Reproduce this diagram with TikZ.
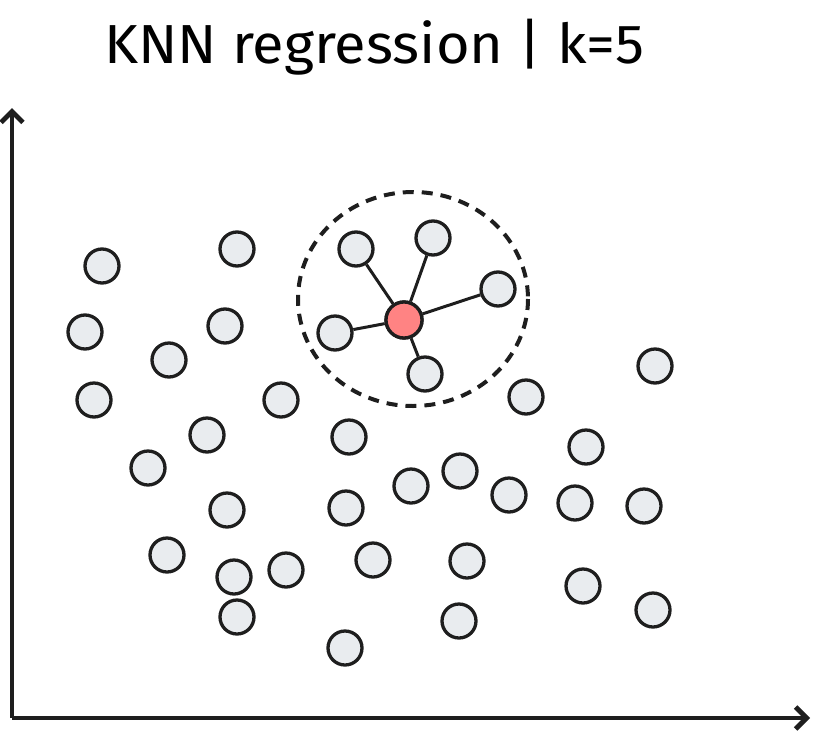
\documentclass[tikz,border=0pt]{standalone}
\usepackage{fontspec}
\setmainfont{Fira Sans}
\definecolor{ink}{HTML}{1E1E1E}
\definecolor{ptfill}{HTML}{E9ECEF}
\definecolor{redfill}{HTML}{FF8383}
\tikzset{
  pt/.style={circle, draw=ink, fill=ptfill, line width=3.3pt, minimum size=34pt, inner sep=0pt},
  query/.style={circle, draw=ink, fill=redfill, line width=3.3pt, minimum size=36pt, inner sep=0pt},
  link/.style={draw=ink, line width=3pt},
  axis/.style={draw=ink, line width=4.8pt, -{Straight Barb[length=11pt,width=22pt]}},
}
\usetikzlibrary{arrows.meta}
\begin{document}
\begin{tikzpicture}[x=1pt,y=-1pt]
\useasboundingbox (0,0) rectangle (818,731);
\node[xscale=1.05] (title) at (374,47) {\fontsize{55}{66}\selectfont KNN regression | k=5};
\draw[draw=ink, line width=4pt, dash pattern=on 11pt off 8pt] (413,299) ellipse [x radius=115, y radius=107];
\coordinate (o) at (12,718);
\coordinate (ytip) at (12,108);
\coordinate (xtip) at (810,718);
\draw[axis] (o) -- (ytip);
\draw[axis] (o) -- (xtip);
\foreach \n/\x/\y in {p1/102/266,p2/237/249,p3/356/249,p4/433/238,p5/498/289,p6/85/332,p7/225/326,p8/335/333,p9/169/360,p10/425/374,p11/655/366,p12/94/400,p13/281/400,p14/526/397,p15/207/435,p16/349/437,p17/586/447,p18/148/468,p19/460/471,p20/411/486,p21/509/495,p22/575/503,p23/644/506,p24/227/510,p25/346/508,p26/167/555,p27/373/560,p28/467/561,p29/286/570,p30/234/577,p31/583/586,p32/653/610,p33/237/617,p34/459/621,p35/345/648}
  \node[pt] (\n) at (\x,\y) {};
\node[query] (q) at (404,320) {};
\foreach \n in {p3,p4,p5,p8,p10}
  \draw[link] (q) -- (\n);
\node[query] at (q) {};
\end{tikzpicture}
\end{document}
